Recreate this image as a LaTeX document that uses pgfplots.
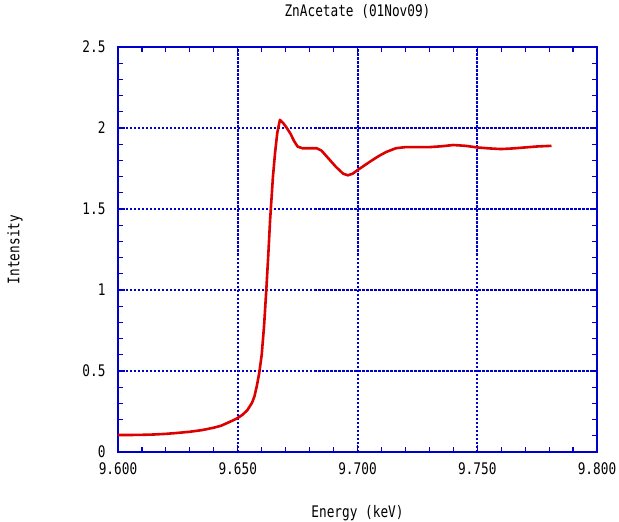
\documentclass[border=0pt]{standalone}
\usepackage{pgfplots}
\pgfplotsset{compat=1.18}
\usepackage{fontspec}
\setmainfont{DejaVu Sans Mono}[FakeStretch=0.8]
\definecolor{frameblue}{HTML}{0000CC}
\definecolor{curvered}{HTML}{DD0000}
\newcommand{\plotfont}{\fontsize{16}{18}\selectfont}

\begin{document}
\begin{tikzpicture}
\useasboundingbox (-118bp,-70bp) rectangle (501bp,452bp);
\begin{axis}[
  scale only axis,
  width=479bp, height=405bp,
  xmin=9.6, xmax=9.8, ymin=0, ymax=2.5,
  xtick={9.6,9.65,9.7,9.75,9.8},
  ytick={0,0.5,1,1.5,2,2.5},
  minor x tick num=4, minor y tick num=4,
  tick align=inside,
  major tick length=7bp, minor tick length=5bp,
  axis line style={frameblue, line width=1.6bp},
  tick style={frameblue, line width=1.2bp},
  grid=major,
  grid style={frameblue, line width=2bp, dash pattern=on 2.5bp off 1.5bp},
  tick label style={font=\plotfont},
  xticklabels={9.600,9.650,9.700,9.750,9.800},
  yticklabels={0,0.5,1,1.5,2,2.5},
  xticklabel style={yshift=-7bp},
  yticklabel style={xshift=-9bp},
  title={ZnAcetate (01Nov09)},
  title style={font=\plotfont, at={(axis description cs:0.5,1.072)}, anchor=center},
  xlabel={Energy (keV)},
  xlabel style={font=\plotfont, at={(axis description cs:0.5,-0.151)}, anchor=center},
  ylabel={Intensity},
  ylabel style={font=\plotfont, at={(axis description cs:-0.215,0.5)}, anchor=center},
]
\addplot[curvered, line width=2.6bp, line join=round] coordinates {
  (9.600,0.105) (9.605,0.105) (9.610,0.106) (9.615,0.108) (9.620,0.112)
  (9.625,0.118) (9.630,0.125) (9.635,0.135) (9.640,0.150) (9.643,0.162)
  (9.645,0.175) (9.648,0.195) (9.650,0.210) (9.652,0.230) (9.654,0.258)
  (9.656,0.305) (9.657,0.345) (9.658,0.410) (9.659,0.490) (9.660,0.600)
  (9.661,0.780) (9.662,1.020) (9.6628,1.230) (9.6635,1.430) (9.6647,1.700)
  (9.6656,1.850) (9.6665,1.970) (9.6676,2.050) (9.669,2.030) (9.6705,2.000)
  (9.672,1.965) (9.6735,1.920) (9.675,1.885) (9.677,1.875) (9.680,1.875)
  (9.683,1.875) (9.685,1.860) (9.688,1.810) (9.691,1.760) (9.694,1.718)
  (9.696,1.708) (9.698,1.718) (9.700,1.740) (9.703,1.770) (9.706,1.800)
  (9.709,1.828) (9.712,1.852) (9.716,1.875) (9.720,1.882) (9.725,1.882)
  (9.730,1.882) (9.735,1.887) (9.740,1.895) (9.745,1.890) (9.750,1.880)
  (9.755,1.874) (9.760,1.870) (9.765,1.874) (9.770,1.880) (9.775,1.886)
  (9.781,1.890)
};
\end{axis}
\end{tikzpicture}
\end{document}
